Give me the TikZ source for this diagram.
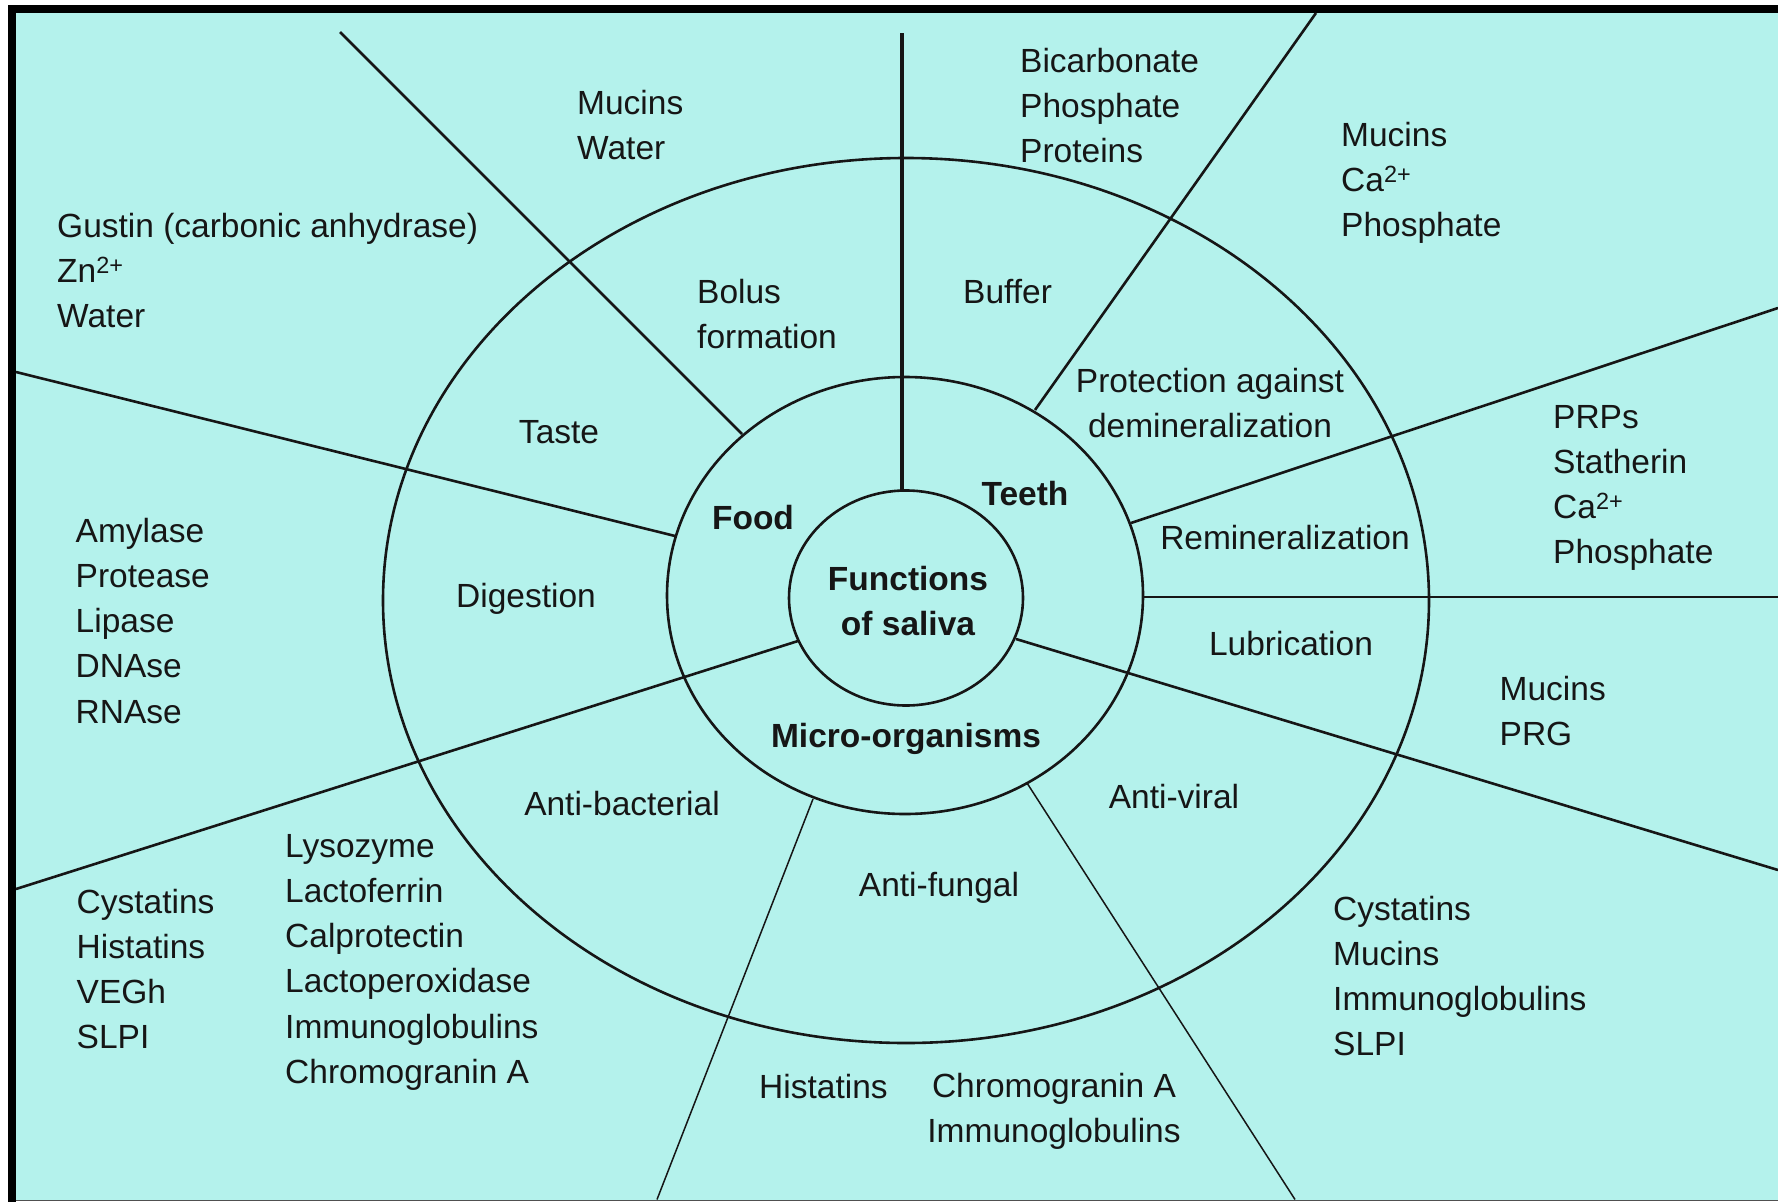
\documentclass[tikz,border=0pt]{standalone}
\usepackage{fontspec}
\setmainfont{Liberation Sans}
\definecolor{bgcyan}{RGB}{180,242,236}
\definecolor{ink}{RGB}{22,22,22}
\begin{document}
\begin{tikzpicture}[x=1pt,y=-1pt,
  ln/.style={draw=ink, line width=2.6pt},
  thinspoke/.style={draw=ink, line width=1.5pt},
  boldspoke/.style={draw=ink, line width=3.6pt},
  lbl/.style={inner sep=0pt, text=ink, font=\fontsize{33.5}{45.2}\selectfont},
  bld/.style={inner sep=0pt, text=ink, font=\fontsize{33.5}{45.2}\selectfont\bfseries},
  lst/.style={lbl, align=left, anchor=north west},
  clst/.style={lbl, align=center, anchor=north},
]
\useasboundingbox (0,0) rectangle (1778,1202);
% frame and background
\fill[white] (0,0) rectangle (1778,1202);
\fill[black] (8,5) rectangle (16,1202);
\fill[black] (8,5) rectangle (1778,13);
\fill[bgcyan] (16,13) rectangle (1778,1199.5);
\fill[ink!75] (16,1199.5) rectangle (1778,1201);

% rings
\draw[ln] (906,598) ellipse [x radius=117, y radius=107.5];
\draw[ln] (905,595.5) ellipse [x radius=238, y radius=218.5];
\draw[ln] (906,600.5) ellipse [x radius=523, y radius=442.5];

% spoke end points
\coordinate (v0) at (902,33);    \coordinate (v1) at (902,490.5);
\coordinate (ul0) at (340,32);   \coordinate (ul1) at (742,434);
\coordinate (l0) at (16,372);    \coordinate (l1) at (675,536);
\coordinate (ll0) at (16,889);   \coordinate (ll1) at (798,641);
\coordinate (bl0) at (813,799);  \coordinate (bl1) at (657,1199.5);
\coordinate (br0) at (1027,783); \coordinate (br1) at (1295,1199.5);
\coordinate (lr0) at (1016,639); \coordinate (lr1) at (1778,870);
\coordinate (h0) at (1143,597);  \coordinate (h1) at (1778,597);
\coordinate (ur0) at (1131,523); \coordinate (ur1) at (1778,308);
\coordinate (tr0) at (1035,410); \coordinate (tr1) at (1316,13);

% spokes
\draw[boldspoke] (v0) -- (v1);
\draw[ln] (ul0) -- (ul1);
\draw[ln] (l0) -- (l1);
\draw[ln] (ll0) -- (ll1);
\draw[thinspoke] (bl0) -- (bl1);
\draw[thinspoke] (br0) -- (br1);
\draw[ln] (lr0) -- (lr1);
\draw[ln] (h0) -- (h1);
\draw[ln] (ur0) -- (ur1);
\draw[ln] (tr0) -- (tr1);

% centre
\node[bld, align=center, anchor=north] (fun) at (908,558.4) {\strut Functions\\of saliva};
\node[bld, anchor=base] (food) at (753,529) {Food};
\node[bld, anchor=base] (teeth) at (1025,505) {Teeth};
\node[bld, anchor=base] (micro) at (906,747) {Micro-organisms};

% middle ring
\node[lst] (bolus) at (697,271.4) {\strut Bolus\\formation};
\node[lbl, anchor=base west] (buffer) at (963,303) {Buffer};
\node[clst] (prot) at (1210,360.4) {\strut Protection against\\demineralization};
\node[lbl, anchor=base] (taste) at (559,443) {Taste};
\node[lbl, anchor=base] (remin) at (1285,549) {Remineralization};
\node[lbl, anchor=base] (dig) at (526,607) {Digestion};
\node[lbl, anchor=base] (lub) at (1291,655) {Lubrication};
\node[lbl, anchor=base] (abac) at (622,815) {Anti-bacterial};
\node[lbl, anchor=base] (avir) at (1174,808) {Anti-viral};
\node[lbl, anchor=base] (afun) at (939,896) {Anti-fungal};

% outer lists
\node[lst] (mw) at (577,82.4) {\strut Mucins\\Water};
\node[lst] (bic) at (1020,40.4) {\strut Bicarbonate\\Phosphate\\Proteins};
\node[lst] (mcp) at (1341,114.4) {\strut Mucins\\Ca\textsuperscript{2+}\\Phosphate};
\node[lst] (gus) at (57,205.4) {\strut Gustin (carbonic anhydrase)\\Zn\textsuperscript{2+}\\Water};
\node[lst] (prp) at (1553,396.4) {\strut PRPs\\Statherin\\Ca\textsuperscript{2+}\\Phosphate};
\node[lst] (amy) at (75.5,510.4) {\strut Amylase\\Protease\\Lipase\\DNAse\\RNAse};
\node[lst] (mprg) at (1499.5,668.4) {\strut Mucins\\PRG};
\node[lst] (lys) at (285,825.4) {\strut Lysozyme\\Lactoferrin\\Calprotectin\\Lactoperoxidase\\Immunoglobulins\\Chromogranin A};
\node[lst] (cysl) at (76.5,881.4) {\strut Cystatins\\Histatins\\VEGh\\SLPI};
\node[lst] (cysr) at (1333,888.4) {\strut Cystatins\\Mucins\\Immunoglobulins\\SLPI};
\node[lbl, anchor=base west] (hist) at (759,1098) {Histatins};
\node[clst] (chrom) at (1054,1065.4) {\strut Chromogranin A\\Immunoglobulins};
\end{tikzpicture}
\end{document}
